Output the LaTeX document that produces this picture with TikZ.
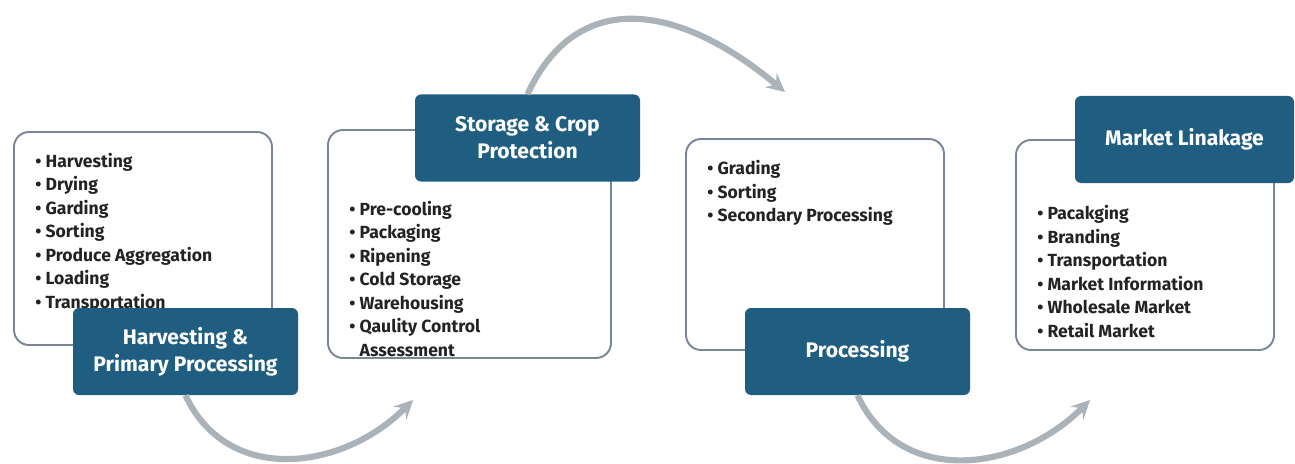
\documentclass[tikz,border=0pt]{standalone}
\usepackage{fontspec}
\setmainfont{Fira Sans}
\usepackage{tikz}
\usetikzlibrary{arrows,shapes,positioning}
\definecolor{labblue}{RGB}{31,94,128}
\definecolor{boxline}{RGB}{122,134,152}
\definecolor{arrgray}{RGB}{170,178,186}
\definecolor{txt}{RGB}{35,35,38}
\tikzstyle{stagebox} = [draw=boxline, line width=1.1pt, rounded corners=0.3cm, fill=white, inner sep=0pt]
\tikzstyle{stagelab} = [fill=labblue, rounded corners=0.12cm, minimum width=4.5cm, minimum height=1.74cm, text=white, align=center, font=\fontsize{12}{15.4}\selectfont\bfseries]
\tikzstyle{items} = [inner sep=0pt, align=left, text=txt, font=\fontsize{10}{13.4}\selectfont\bfseries]
\tikzstyle{flow} = [line width=3.5pt, draw=arrgray, ->, >=stealth]
\newcommand{\bl}{\textbullet\ }

\begin{document}
\begin{tikzpicture}
\useasboundingbox (0,0) rectangle (25.9,9.26);
% boxes
\node (box1) [stagebox, minimum width=5.16cm, minimum height=4.26cm] at (2.86,4.49) {};
\node (box2) [stagebox, minimum width=5.66cm, minimum height=4.56cm] at (9.39,4.38) {};
\node (box3) [stagebox, minimum width=5.16cm, minimum height=4.22cm] at (16.30,4.37) {};
\node (box4) [stagebox, minimum width=5.16cm, minimum height=4.20cm] at (22.90,4.36) {};
% lists
\node (list1) [items, below right=0.43cm and 0.44cm of box1.north west] {\bl Harvesting\\ \bl Drying\\ \bl Garding\\ \bl Sorting\\ \bl Produce Aggregation\\ \bl Loading\\ \bl Transportation};
\node (list2) [items, below right=1.43cm and 0.44cm of box2.north west] {\bl Pre-cooling\\ \bl Packaging\\ \bl Ripening\\ \bl Cold Storage\\ \bl Warehousing\\ \bl Qaulity Control\\ \phantom{\bl}Assessment};
\node (list3) [items, below right=0.44cm and 0.44cm of box3.north west] {\bl Grading\\ \bl Sorting\\ \bl Secondary Processing};
\node (list4) [items, below right=1.32cm and 0.44cm of box4.north west] {\bl Pacakging\\ \bl Branding\\ \bl Transportation\\ \bl Market Information\\ \bl Wholesale Market\\ \bl Retail Market};
% labels
\node (lab1) [stagelab] at (3.71,2.23) {Harvesting \&\\ Primary Processing};
\node (lab2) [stagelab] at (10.55,6.50) {Storage \& Crop\\ Protection};
\node (lab3) [stagelab] at (17.15,2.23) {Processing};
\node (lab4) [stagelab, minimum width=4.38cm] at (23.69,6.47) {Market Linakage};
% arrows
\coordinate (end1) at (8.26,1.26);
\coordinate (end2) at (15.70,7.42);
\coordinate (end3) at (21.80,1.26);
\draw [flow] (lab1.south) to [out=-65, in=-135, looseness=1.12] (end1);
\draw [flow] (lab2.north) to [out=65, in=140, looseness=1.25] (end2);
\draw [flow] (lab3.south) to [out=-65, in=-135, looseness=1.12] (end3);
\end{tikzpicture}
\end{document}
